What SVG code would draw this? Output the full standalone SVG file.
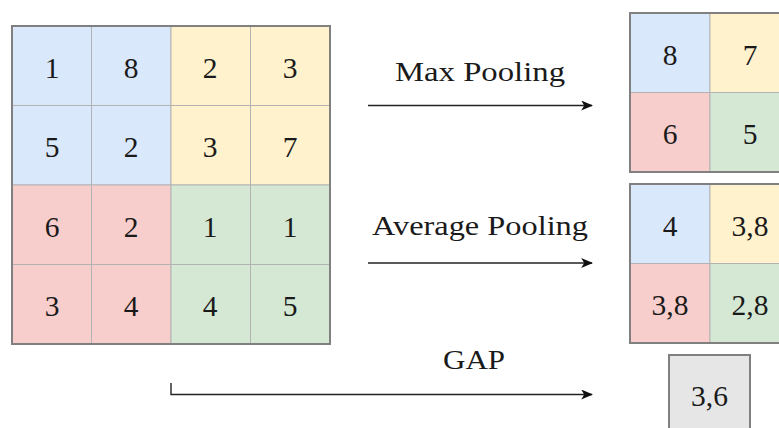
<svg xmlns="http://www.w3.org/2000/svg" width="779" height="428" viewBox="0 0 779 428">
<defs>
<style>
.b{fill:#dae8fc}.y{fill:#fff2cc}.r{fill:#f8cecc}.g{fill:#d5e8d4}
.c{stroke:#b3b3b3;stroke-width:1}
.frame{fill:none;stroke:#808080;stroke-width:2}
.t{font-size:29.5px;fill:#1a1a1a;text-anchor:middle}
.l{font-size:27px;fill:#1a1a1a;text-anchor:middle}
.a{fill:none;stroke:#222;stroke-width:1.4}
</style>
<marker id="ah" viewBox="0 0 10 10" preserveAspectRatio="none" refX="9" refY="5" markerWidth="12" markerHeight="10" markerUnits="userSpaceOnUse" orient="auto">
<path d="M0,0 L10,5 L0,10 L2.5,5 Z" fill="#111"/>
</marker>
</defs>
<rect width="779" height="428" fill="#fff"/>

<g id="input-grid" font-family="'Liberation Serif', 'Times New Roman', serif">
<rect class="b c" x="12" y="26" width="79.5" height="79.5"/>
<rect class="b c" x="91.5" y="26" width="79.5" height="79.5"/>
<rect class="y c" x="171" y="26" width="79.5" height="79.5"/>
<rect class="y c" x="250.5" y="26" width="79.5" height="79.5"/>
<rect class="b c" x="12" y="105.5" width="79.5" height="79.5"/>
<rect class="b c" x="91.5" y="105.5" width="79.5" height="79.5"/>
<rect class="y c" x="171" y="105.5" width="79.5" height="79.5"/>
<rect class="y c" x="250.5" y="105.5" width="79.5" height="79.5"/>
<rect class="r c" x="12" y="185" width="79.5" height="79.5"/>
<rect class="r c" x="91.5" y="185" width="79.5" height="79.5"/>
<rect class="g c" x="171" y="185" width="79.5" height="79.5"/>
<rect class="g c" x="250.5" y="185" width="79.5" height="79.5"/>
<rect class="r c" x="12" y="264.5" width="79.5" height="79.5"/>
<rect class="r c" x="91.5" y="264.5" width="79.5" height="79.5"/>
<rect class="g c" x="171" y="264.5" width="79.5" height="79.5"/>
<rect class="g c" x="250.5" y="264.5" width="79.5" height="79.5"/>
<rect class="frame" x="12" y="26" width="318" height="318"/>
<text class="t" x="52" y="78">1</text><text class="t" x="131" y="78">8</text><text class="t" x="210" y="78">2</text><text class="t" x="290" y="78">3</text>
<text class="t" x="52" y="157">5</text><text class="t" x="131" y="157">2</text><text class="t" x="210" y="157">3</text><text class="t" x="290" y="157">7</text>
<text class="t" x="52" y="237">6</text><text class="t" x="131" y="237">2</text><text class="t" x="210" y="237">1</text><text class="t" x="290" y="237">1</text>
<text class="t" x="52" y="316">3</text><text class="t" x="131" y="316">4</text><text class="t" x="210" y="316">4</text><text class="t" x="290" y="316">5</text>
</g>

<g id="max-pool-output" font-family="'Liberation Serif', 'Times New Roman', serif">
<rect class="b c" x="630" y="13" width="80" height="79.5"/>
<rect class="y c" x="710" y="13" width="80" height="79.5"/>
<rect class="r c" x="630" y="92.5" width="80" height="79.5"/>
<rect class="g c" x="710" y="92.5" width="80" height="79.5"/>
<rect class="frame" x="630" y="13" width="160" height="159"/>
<text class="t" x="670" y="65">8</text><text class="t" x="750" y="65">7</text>
<text class="t" x="670" y="144">6</text><text class="t" x="750" y="144">5</text>
</g>

<g id="avg-pool-output" font-family="'Liberation Serif', 'Times New Roman', serif">
<rect class="b c" x="630" y="184" width="80" height="79.5"/>
<rect class="y c" x="710" y="184" width="80" height="79.5"/>
<rect class="r c" x="630" y="263.5" width="80" height="79.5"/>
<rect class="g c" x="710" y="263.5" width="80" height="79.5"/>
<rect class="frame" x="630" y="184" width="160" height="159"/>
<text class="t" x="670" y="236">4</text><text class="t" x="750" y="236">3,8</text>
<text class="t" x="670" y="315">3,8</text><text class="t" x="750" y="315">2,8</text>
</g>

<g id="gap-output" font-family="'Liberation Serif', 'Times New Roman', serif">
<rect x="669" y="355" width="81" height="90" fill="#e6e6e6" stroke="#808080" stroke-width="2"/>
<text class="t" x="709.5" y="406">3,6</text>
</g>

<g id="connectors">
<line class="a" x1="368" y1="105.5" x2="592" y2="105.5" marker-end="url(#ah)"/>
<line class="a" x1="368" y1="263" x2="592" y2="263" marker-end="url(#ah)"/>
<path class="a" d="M171,383 L171,394.5 L592,394.5" marker-end="url(#ah)"/>
</g>

<g id="labels" font-family="'Liberation Serif', 'Times New Roman', serif">
<text class="l" x="480" y="81" textLength="170" lengthAdjust="spacingAndGlyphs">Max Pooling</text>
<text class="l" x="480" y="235" textLength="216" lengthAdjust="spacingAndGlyphs">Average Pooling</text>
<text class="l" x="474" y="369" textLength="62" lengthAdjust="spacingAndGlyphs">GAP</text>
</g>
</svg>
